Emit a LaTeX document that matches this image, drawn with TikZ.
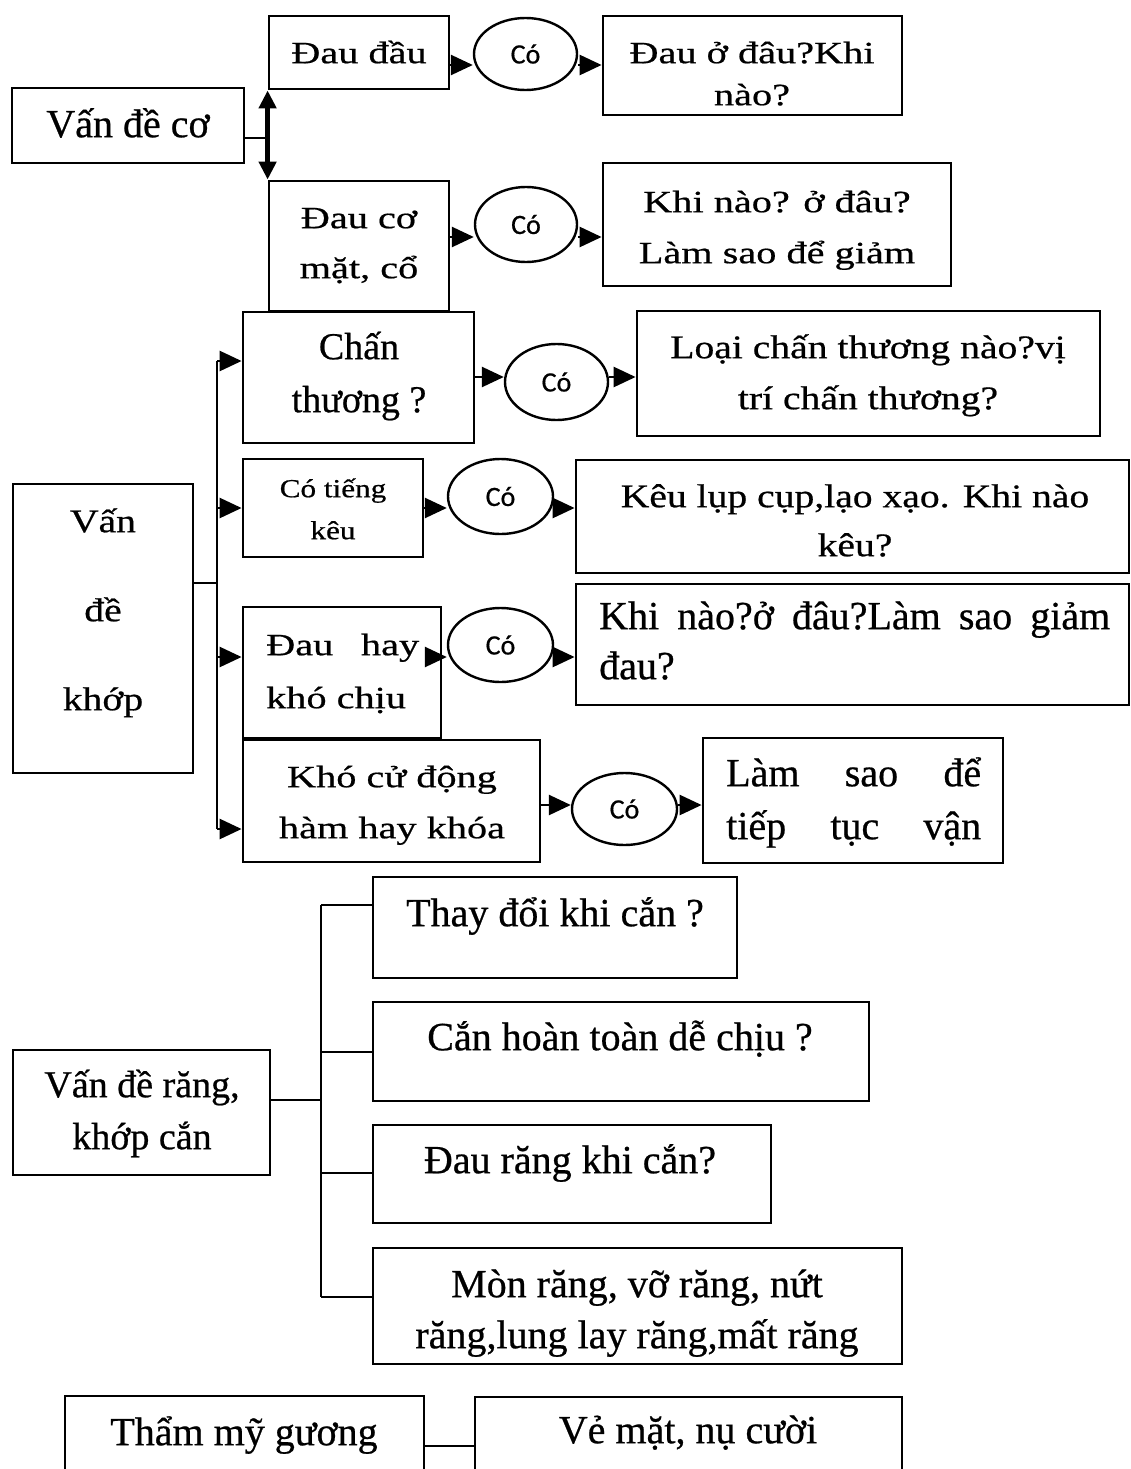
\documentclass[tikz,border=0pt]{standalone}
\usepackage{fontspec}
\setmainfont{Liberation Serif}[FakeBold=0.6]
\newfontfamily\midserif{Liberation Serif}[FakeStretch=1.2,FakeBold=0.6]
\newfontfamily\wideserif{Liberation Serif}[FakeStretch=1.3,FakeBold=0.6]
\newfontfamily\cofont{Carlito}[FakeBold=0.6]
\usetikzlibrary{arrows.meta,shapes.geometric,fit}
% first-line strut, so that the node top sits 1.1em above the first baseline
\newcommand\lift{\rule{0pt}{1.1em}}
\begin{document}
\begin{tikzpicture}[x=1pt,y=-1pt,
  box/.style={draw, line width=2.8pt, inner sep=0pt},
  txt/.style n args={3}{inner sep=0pt, anchor=north, align=center,
    yshift={1.1*#1}, font={\fontsize{#1}{#2}\selectfont#3}},
  cobubble/.style={ellipse, draw, line width=2.4pt, inner sep=0pt,
    font={\fontsize{28}{32}\selectfont\cofont}},
  link/.style={line width=2.6pt},
  arr/.style={line width=2.6pt, -{Triangle[length=22pt,width=20pt]}},
]
\useasboundingbox (0,0) rectangle (1131,1469);
\fill[white] (0,0) rectangle (1131,1469);
\clip (0,0) rectangle (1131,1469);

% ---------------- muscle problems ----------------
\node[box, fit={(12,88) (244,163)}] (A1) {};
\node[txt={40}{50}{\rmfamily}] (A1t) at (128,137) {\lift Vấn đề cơ};

\node[box, fit={(269,16) (449,89)}] (B1) {};
\node[txt={31}{50}{\wideserif}] (B1t) at (359,63) {\lift Đau đầu};
\node[box, fit={(269,181) (449,311)}] (B2) {};
\node[txt={31}{50}{\wideserif}] (B2t) at (359,228) {\lift Đau cơ\\mặt, cổ};

\node[cobubble, minimum width=103pt, minimum height=72pt] (C1) at (525.5,54) {Có};
\node[cobubble, minimum width=102pt, minimum height=75pt] (C2) at (526,224.5) {Có};

\node[box, fit={(603,16) (902,115)}] (D1) {};
\node[txt={31}{42}{\wideserif}] (D1t) at (752,63) {\lift Đau ở đâu?Khi\\nào?};
\node[box, fit={(603,163) (951,286)}] (D2) {};
\node[txt={31}{51}{\wideserif}] (D2t) at (777,212) {\lift Khi nào? ở đâu?\\Làm sao để giảm};

\coordinate (k1) at (270,138);
\coordinate (r1) at (0,65);
\coordinate (r2) at (0,237);
\draw[link] (A1.east |- k1) -- (k1);
\draw[line width=4.5pt, {Triangle[length=18pt,width=17pt]}-{Triangle[length=18pt,width=17pt]}]
  (B1.south west) -- (B2.north west);
\draw[arr] (B1.east |- r1) -- (C1.west |- r1);
\draw[arr] (C1.east |- r1) -- (D1.west |- r1);
\draw[arr] (B2.east |- r2) -- (C2.west |- r2);
\draw[arr] (C2.east |- r2) -- (D2.west |- r2);

% ---------------- joint problems ----------------
\node[box, fit={(13,484) (193,773)}] (A2) {};
\node[txt={33}{89}{\midserif}] (A2t) at (103,532) {\lift Vấn\\đề\\khớp};

\node[box, fit={(243,312) (474,443)}] (E1) {};
\node[txt={38}{53}{\rmfamily}] (E1t) at (359,359) {\lift Chấn\\thương ?};
\node[box, fit={(243,459) (423,557)}] (E2) {};
\node[txt={26}{42}{\midserif}] (E2t) at (333,497) {\lift Có tiếng\\kêu};
\node[box, fit={(243,607) (441,738)}] (E3) {};
\node[txt={31}{53}{\wideserif}, anchor=north west, align=left] (E3t) at (266,655)
  {\lift\makebox[153pt][s]{Đau hay}\\khó chịu};
\node[box, fit={(243,740) (540,862)}] (E4) {};
\node[txt={31}{51}{\wideserif}] (E4t) at (392,787) {\lift Khó cử động\\hàm hay khóa};

\node[cobubble, minimum width=103pt, minimum height=76pt] (F1) at (556.5,382) {Có};
\node[cobubble, minimum width=105pt, minimum height=75pt] (F2) at (500.5,496.5) {Có};
\node[cobubble, minimum width=105pt, minimum height=74pt] (F3) at (500.5,645) {Có};
\node[cobubble, minimum width=105pt, minimum height=72pt] (F4) at (624.5,809) {Có};

\node[box, fit={(637,311) (1100,436)}] (G1) {};
\node[txt={33}{51}{\midserif}] (G1t) at (868,358) {\lift Loại chấn thương nào?vị\\trí chấn thương?};
\node[box, fit={(576,460) (1129,573)}] (G2) {};
\node[txt={33}{49}{\midserif}] (G2t) at (855,507) {\lift Kêu lụp cụp,lạo xạo. Khi nào\\kêu?};
\node[box, fit={(576,584) (1129,705)}] (G3) {};
\node[txt={40}{50}{\rmfamily}, anchor=north west, align=left] (G3t) at (599,629)
  {\lift\makebox[511pt][s]{Khi nào?ở đâu?Làm sao giảm}\\đau?};
\node[box, fit={(703,738) (1003,863)}] (G4) {};
\node[txt={40}{53}{\rmfamily}, anchor=north west, align=left] (G4t) at (726,786)
  {\lift\makebox[255pt][s]{Làm sao để}\\\makebox[255pt][s]{tiếp tục vận}};

\coordinate (k2) at (217,583);
\coordinate (s1) at (0,361);
\coordinate (s2) at (0,508);
\coordinate (s3) at (0,657);
\coordinate (s4) at (0,829);
\coordinate (q1) at (0,377);
\coordinate (q4) at (0,805);
\draw[link] (A2.east |- k2) -- (k2);
\draw[link] (k2 |- s1) -- (k2 |- s4);
\draw[arr] (k2 |- s1) -- (E1.west |- s1);
\draw[arr] (k2 |- s2) -- (E2.west |- s2);
\draw[arr] (k2 |- s3) -- (E3.west |- s3);
\draw[arr] (k2 |- s4) -- (E4.west |- s4);

\draw[arr] (E1.east |- q1) -- (F1.west |- q1);
\draw[arr] (F1.east |- q1) -- (G1.west |- q1);
\draw[arr] (E2.east |- s2) -- (F2.west |- s2);
\draw[arr] (F2.east |- s2) -- (G2.west |- s2);
\draw[arr] (E3.east |- s3) -- (F3.west |- s3);
\draw[arr] (F3.east |- s3) -- (G3.west |- s3);
\draw[arr] (E4.east |- q4) -- (F4.west |- q4);
\draw[arr] (F4.east |- q4) -- (G4.west |- q4);

% ---------------- teeth and occlusion ----------------
\node[box, fit={(13,1050) (270,1175)}] (A3) {};
\node[txt={38}{52}{\rmfamily}] (A3t) at (142,1097) {\lift Vấn đề răng,\\khớp cắn};

\node[box, fit={(373,877) (737,978)}] (H1) {};
\node[txt={40}{50}{\rmfamily}] (H1t) at (555,926) {\lift Thay đổi khi cắn ?};
\node[box, fit={(373,1002) (869,1101)}] (H2) {};
\node[txt={40}{50}{\rmfamily}] (H2t) at (620,1050) {\lift Cắn hoàn toàn dễ chịu ?};
\node[box, fit={(373,1125) (771,1223)}] (H3) {};
\node[txt={40}{50}{\rmfamily}] (H3t) at (570,1173) {\lift Đau răng khi cắn?};
\node[box, fit={(373,1248) (902,1364)}] (H4) {};
\node[txt={40}{51}{\rmfamily}] (H4t) at (637,1297) {\lift Mòn răng, vỡ răng, nứt\\răng,lung lay răng,mất răng};

\coordinate (k3) at (321,1100);
\coordinate (u1) at (0,905);
\coordinate (u2) at (0,1052);
\coordinate (u3) at (0,1173);
\coordinate (u4) at (0,1297);
\draw[link] (A3.east |- k3) -- (k3);
\draw[link] (k3 |- u1) -- (k3 |- u4);
\draw[link] (k3 |- u1) -- (H1.west |- u1);
\draw[link] (k3 |- u2) -- (H2.west |- u2);
\draw[link] (k3 |- u3) -- (H3.west |- u3);
\draw[link] (k3 |- u4) -- (H4.west |- u4);

% ---------------- mirror aesthetics ----------------
\node[box, fit={(65,1396) (424,1500)}] (A4) {};
\node[txt={40}{50}{\rmfamily}] (A4t) at (244,1445) {\lift Thẩm mỹ gương};
\node[box, fit={(475,1397) (902,1500)}] (H5) {};
\node[txt={40}{50}{\rmfamily}] (H5t) at (688,1443) {\lift Vẻ mặt, nụ cười};
\coordinate (u5) at (0,1446);
\draw[link] (A4.east |- u5) -- (H5.west |- u5);
\end{tikzpicture}
\end{document}
